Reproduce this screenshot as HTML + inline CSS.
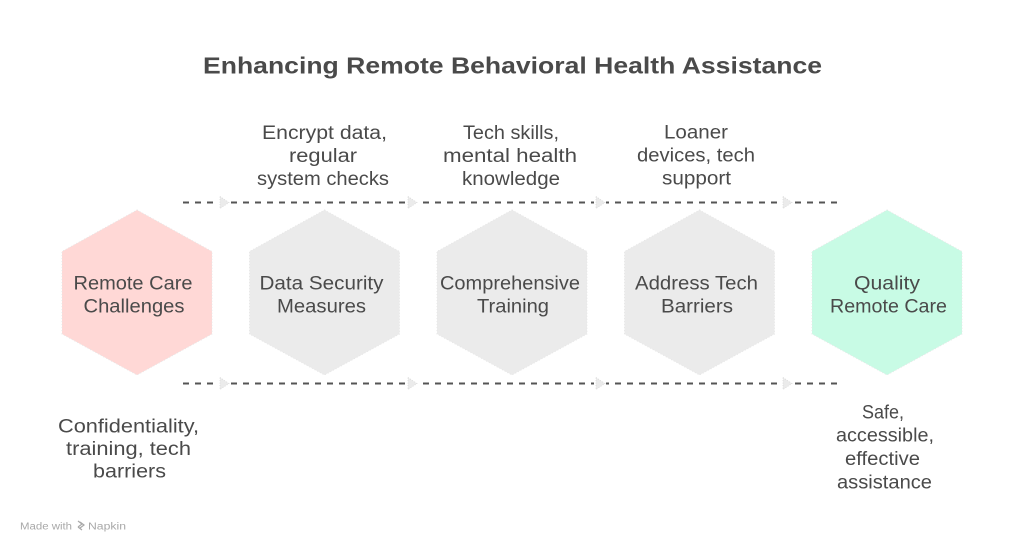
<!DOCTYPE html>
<html>
<head>
<meta charset="utf-8">
<style>
  html,body{margin:0;padding:0;background:#fff;}
  svg{display:block;}
  text{font-family:"Liberation Sans", sans-serif;fill:#4a4a4a;}
</style>
</head>
<body>
<svg width="1024" height="551" viewBox="0 0 1024 551" xmlns="http://www.w3.org/2000/svg">
  <rect width="1024" height="551" fill="#fff"/>

  <!-- Title -->
  <text x="203" y="73.5" font-size="23" font-weight="bold" textLength="619" lengthAdjust="spacingAndGlyphs" fill="#444">Enhancing Remote Behavioral Health Assistance</text>

  <!-- dashed lines -->
  <g stroke="#555" stroke-width="2" stroke-dasharray="6 6" fill="none">
    <line x1="183" y1="202.5" x2="842" y2="202.5"/>
    <line x1="183" y1="383.5" x2="842" y2="383.5"/>
  </g>
  <!-- arrowheads -->
  <g fill="#ebebeb" stroke="#d8d8d8" stroke-width="0.8" stroke-dasharray="1 1.5">
    <rect x="218" y="195" width="12" height="15" fill="#fff" stroke="none"/>
    <rect x="406" y="195" width="12" height="15" fill="#fff" stroke="none"/>
    <rect x="594" y="195" width="12" height="15" fill="#fff" stroke="none"/>
    <rect x="781" y="195" width="12" height="15" fill="#fff" stroke="none"/>
    <rect x="218" y="376" width="12" height="15" fill="#fff" stroke="none"/>
    <rect x="406" y="376" width="12" height="15" fill="#fff" stroke="none"/>
    <rect x="594" y="376" width="12" height="15" fill="#fff" stroke="none"/>
    <rect x="781" y="376" width="12" height="15" fill="#fff" stroke="none"/>
    <polygon points="220,196.5 229,202.5 220,208.5"/>
    <polygon points="408,196.5 417,202.5 408,208.5"/>
    <polygon points="596,196.5 605,202.5 596,208.5"/>
    <polygon points="783,196.5 792,202.5 783,208.5"/>
    <polygon points="220,377.5 229,383.5 220,389.5"/>
    <polygon points="408,377.5 417,383.5 408,389.5"/>
    <polygon points="596,377.5 605,383.5 596,389.5"/>
    <polygon points="783,377.5 792,383.5 783,389.5"/>
  </g>

  <!-- hexagons -->
  <g stroke="#e6e6e6" stroke-width="1" stroke-dasharray="1 2">
    <polygon fill="#ffd8d6" points="137,210 212,251.5 212,334 137,375 62,334 62,251.5"/>
    <polygon fill="#ebebeb" points="324.5,210 399.5,251.5 399.5,334 324.5,375 249.5,334 249.5,251.5"/>
    <polygon fill="#ebebeb" points="512,210 587,251.5 587,334 512,375 437,334 437,251.5"/>
    <polygon fill="#ebebeb" points="699.5,210 774.5,251.5 774.5,334 699.5,375 624.5,334 624.5,251.5"/>
    <polygon fill="#c8fbe5" points="887,210 962,251.5 962,334 887,375 812,334 812,251.5"/>
  </g>

  <!-- hex labels -->
  <g font-size="19">
    <text x="73.5" y="289.5" textLength="119" lengthAdjust="spacingAndGlyphs">Remote Care</text>
    <text x="83.5" y="312.5" textLength="101" lengthAdjust="spacingAndGlyphs">Challenges</text>
    <text x="259.5" y="289.5" textLength="124" lengthAdjust="spacingAndGlyphs">Data Security</text>
    <text x="277" y="312.5" textLength="89" lengthAdjust="spacingAndGlyphs">Measures</text>
    <text x="440" y="289.5" textLength="140" lengthAdjust="spacingAndGlyphs">Comprehensive</text>
    <text x="477" y="312.5" textLength="72" lengthAdjust="spacingAndGlyphs">Training</text>
    <text x="635" y="289.5" textLength="123" lengthAdjust="spacingAndGlyphs">Address Tech</text>
    <text x="661" y="312.5" textLength="72" lengthAdjust="spacingAndGlyphs">Barriers</text>
    <text x="854" y="289.5" textLength="66" lengthAdjust="spacingAndGlyphs">Quality</text>
    <text x="830" y="312.5" textLength="117" lengthAdjust="spacingAndGlyphs">Remote Care</text>
  </g>

  <!-- top annotations -->
  <g font-size="19">
    <text x="262" y="139" textLength="125" lengthAdjust="spacingAndGlyphs">Encrypt data,</text>
    <text x="289" y="162" textLength="68" lengthAdjust="spacingAndGlyphs">regular</text>
    <text x="257" y="185" textLength="132" lengthAdjust="spacingAndGlyphs">system checks</text>

    <text x="463" y="139" textLength="96" lengthAdjust="spacingAndGlyphs">Tech skills,</text>
    <text x="443" y="162" textLength="134" lengthAdjust="spacingAndGlyphs">mental health</text>
    <text x="462" y="185" textLength="98" lengthAdjust="spacingAndGlyphs">knowledge</text>

    <text x="664" y="138.5" textLength="64" lengthAdjust="spacingAndGlyphs">Loaner</text>
    <text x="637" y="161.5" textLength="118" lengthAdjust="spacingAndGlyphs">devices, tech</text>
    <text x="662" y="184.5" textLength="69" lengthAdjust="spacingAndGlyphs">support</text>
  </g>

  <!-- bottom annotations -->
  <g font-size="19">
    <text x="58" y="432.5" textLength="141" lengthAdjust="spacingAndGlyphs">Confidentiality,</text>
    <text x="66" y="455" textLength="125" lengthAdjust="spacingAndGlyphs">training, tech</text>
    <text x="93" y="477.5" textLength="73" lengthAdjust="spacingAndGlyphs">barriers</text>

    <text x="862" y="418.3" textLength="42" lengthAdjust="spacingAndGlyphs">Safe,</text>
    <text x="836" y="441.7" textLength="98" lengthAdjust="spacingAndGlyphs">accessible,</text>
    <text x="845" y="465" textLength="75" lengthAdjust="spacingAndGlyphs">effective</text>
    <text x="837" y="488.3" textLength="95" lengthAdjust="spacingAndGlyphs">assistance</text>
  </g>

  <!-- footer -->
  <text x="20" y="529.5" font-size="10" style="fill:#a8a8a8" textLength="52" lengthAdjust="spacingAndGlyphs">Made with</text>
  <g stroke="#a8a8a8" stroke-width="1.2" fill="none">
    <path d="M78 521 l4 3 l-4 3 M80 522 l4 3 l-4 3 M78 527 l4 3"/>
  </g>
  <text x="88" y="529.5" font-size="10" style="fill:#a8a8a8" textLength="38" lengthAdjust="spacingAndGlyphs">Napkin</text>
</svg>
</body>
</html>
